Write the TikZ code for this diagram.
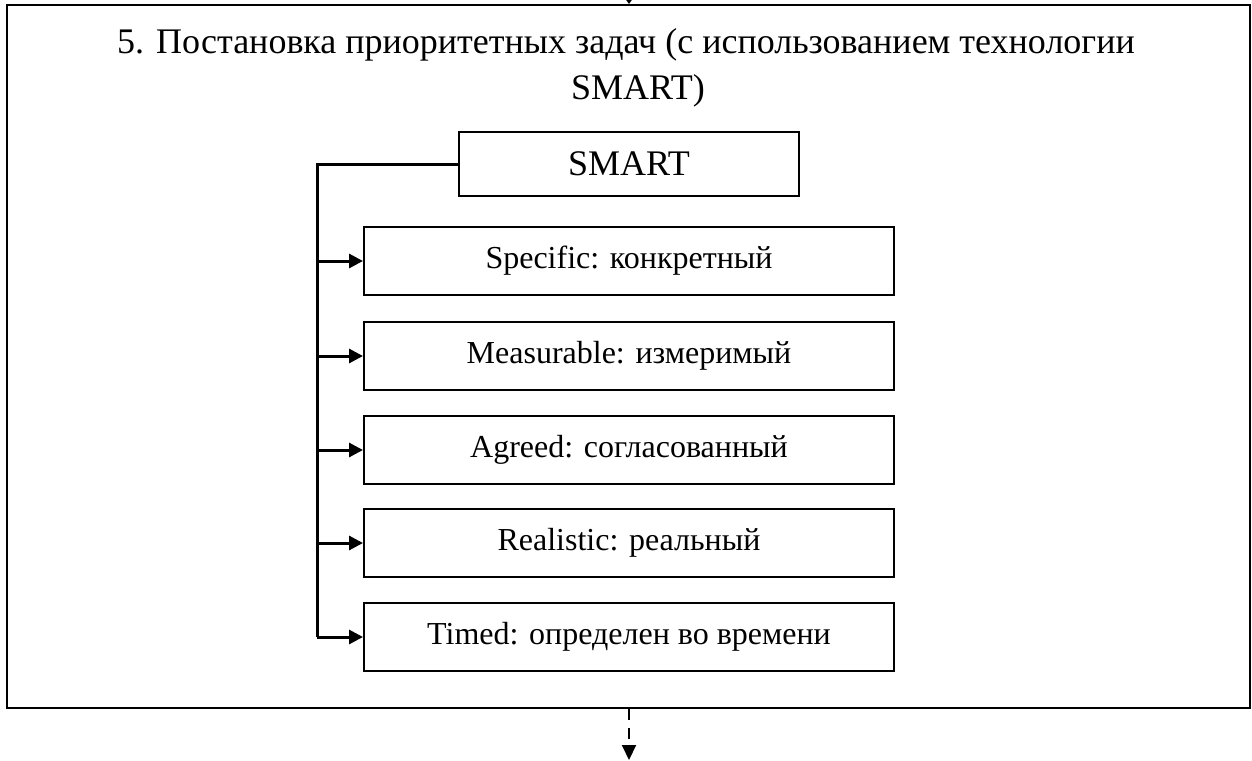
\documentclass[tikz,border=0pt]{standalone}
\usepackage{fontspec}
\setmainfont{Liberation Serif}
\usetikzlibrary{arrows.meta}
\begin{document}
\begin{tikzpicture}[x=1pt,y=-1pt,
  frame/.style={draw,line width=2pt,minimum width=1243pt,minimum height=703pt,inner sep=0pt},
  titleline/.style={inner sep=0pt,anchor=base,font=\fontsize{36}{45}\selectfont},
  headbox/.style={draw,line width=2pt,minimum width=340pt,minimum height=64pt,inner sep=0pt,font=\fontsize{36}{40}\selectfont},
  itembox/.style={draw,line width=2pt,minimum width=530pt,minimum height=68pt,inner sep=0pt,font=\fontsize{32}{36}\selectfont},
  spine/.style={line width=3pt},
  feed/.style={line width=3pt,-{Triangle[length=14pt,width=14pt]}},
  next/.style={line width=2pt,dash pattern=on 11pt off 8pt,-{Triangle[length=15pt,width=14pt]}}
]
\useasboundingbox (0,0) rectangle (1252,760);
\fill[white] (0,0) rectangle (1252,760);

% outer frame and two-line title
\node[frame] (frame) at (628.5,356.5) {};
\node[titleline] (title1) at (626,54) {5. Постановка приоритетных задач (с использованием технологии};
\node[titleline] (title2) at (638,99) {SMART)};

% incoming arrow at the top edge
\coordinate (in) at (629,-12);
\draw[line width=2pt,-{Triangle[length=6pt,width=8pt]}] (in) -- (frame.north -| in);

% header box
\node[headbox] (smart) at (629,164) {SMART};

% the five criteria
\node[itembox] (s) at (629,261) {Specific: конкретный};
\node[itembox] (m) at (629,356) {Measurable: измеримый};
\node[itembox] (a) at (629,450) {Agreed: согласованный};
\node[itembox] (r) at (629,543) {Realistic: реальный};
\node[itembox] (t) at (629,637) {Timed: определен во времени};

% bracket from the header down the left side
\coordinate (top) at (317,164);
\coordinate (bot) at (317,637);
\draw[spine] (smart.west) -- (top) -- (bot);
\foreach \n in {s,m,a,r,t}
  \draw[feed] (top |- \n.west) -- (\n.west);

% outgoing dashed arrow
\coordinate (out) at (629,760);
\draw[next] (frame.south -| out) -- (out);
\end{tikzpicture}
\end{document}
